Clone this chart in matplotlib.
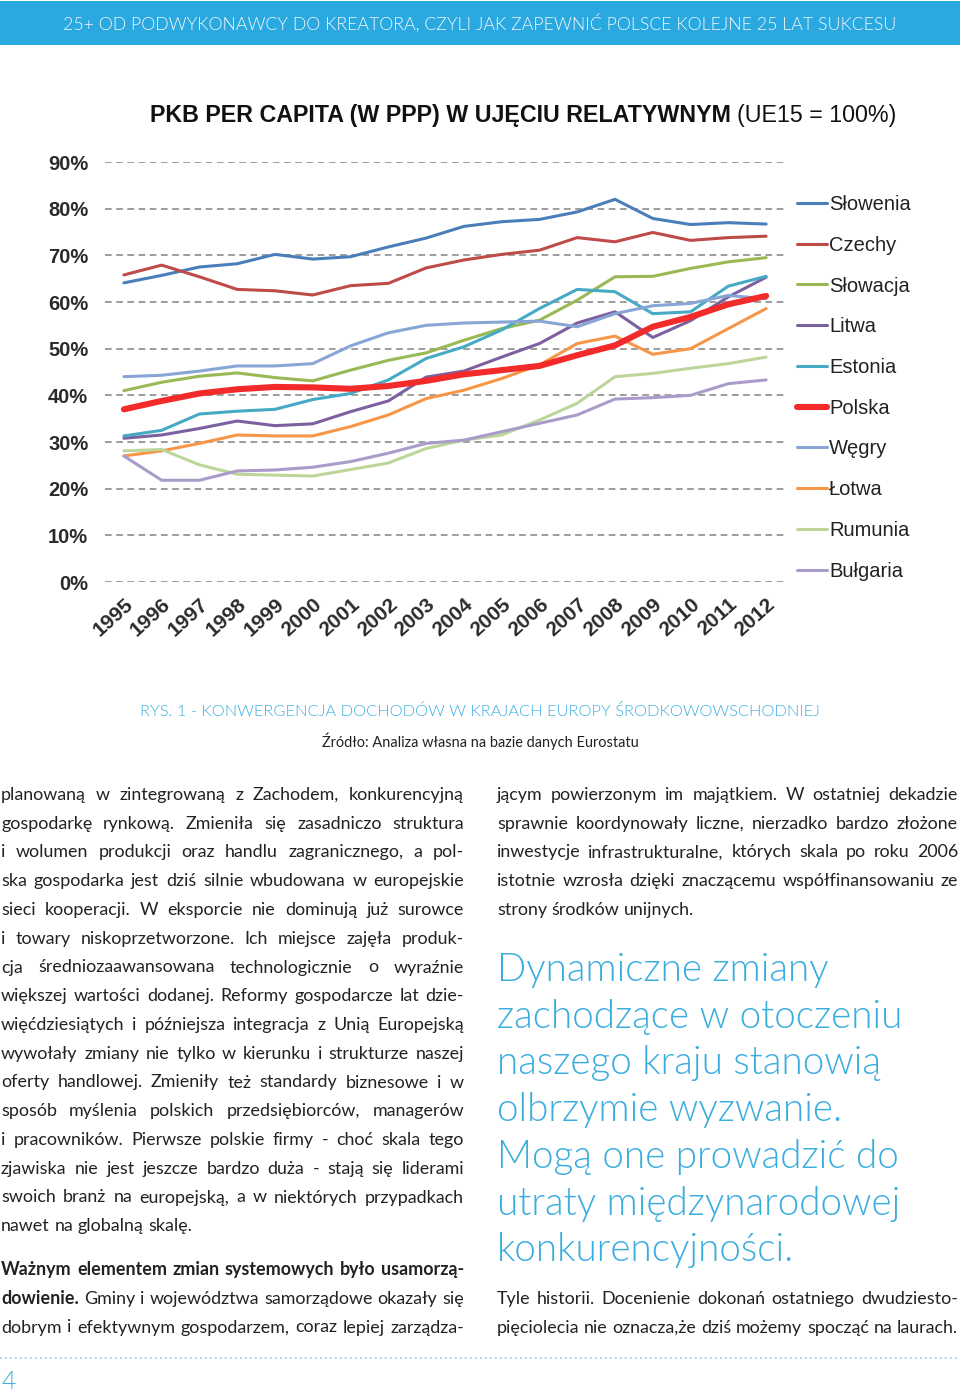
#!/usr/bin/env python3
"""Strona raportu: PKB per capita (PPP) krajów EŚW względem UE15 + tekst"""
import matplotlib
matplotlib.use('Agg')
import matplotlib.pyplot as plt
import matplotlib.font_manager as fm
from matplotlib.lines import Line2D
from matplotlib.patches import Rectangle

# ── dane (% UE15) ──────────────────────────────────────
years = [1995, 1996, 1997, 1998, 1999, 2000, 2001, 2002, 2003,
         2004, 2005, 2006, 2007, 2008, 2009, 2010, 2011, 2012]
countries = ['Słowenia', 'Czechy', 'Słowacja', 'Litwa', 'Estonia',
             'Polska', 'Węgry', 'Łotwa', 'Rumunia', 'Bułgaria']

slowenia = [64.1, 65.7, 67.5, 68.2, 70.2, 69.2, 69.7, 71.8, 73.7,
            76.2, 77.2, 77.7, 79.3, 82.0, 77.9, 76.6, 77.0, 76.7]
czechy = [65.8, 67.9, 65.4, 62.7, 62.4, 61.5, 63.5, 64.0, 67.3,
          69.0, 70.2, 71.1, 73.8, 72.9, 74.9, 73.2, 73.8, 74.1]
slowacja = [41.0, 42.8, 44.1, 44.8, 43.8, 43.1, 45.4, 47.5, 49.1,
            51.8, 54.3, 56.1, 60.4, 65.4, 65.5, 67.2, 68.6, 69.5]
litwa = [30.8, 31.5, 32.9, 34.5, 33.5, 33.9, 36.5, 38.8, 43.9,
         45.2, 48.2, 51.1, 55.5, 57.9, 52.4, 56.0, 61.1, 65.3]
estonia = [31.3, 32.5, 36.0, 36.6, 37.0, 39.1, 40.4, 43.3, 47.9,
           50.4, 54.0, 58.6, 62.7, 62.2, 57.5, 57.9, 63.4, 65.5]
polska = [37.0, 38.8, 40.4, 41.3, 41.8, 41.7, 41.4, 42.0, 43.1,
          44.5, 45.4, 46.3, 48.6, 50.7, 54.7, 56.8, 59.5, 61.3]
wegry = [44.0, 44.3, 45.2, 46.3, 46.3, 46.8, 50.6, 53.4, 55.0,
         55.5, 55.7, 55.9, 54.7, 57.5, 59.2, 59.7, 61.4, 60.7]
lotwa = [27.0, 28.1, 29.7, 31.5, 31.3, 31.3, 33.3, 35.8, 39.3,
         41.1, 43.6, 46.5, 51.1, 52.7, 48.8, 50.0, 54.3, 58.6]
rumunia = [28.1, 28.4, 25.1, 23.1, 22.9, 22.7, 24.1, 25.5, 28.6,
           30.4, 31.5, 34.7, 38.3, 44.0, 44.7, 45.8, 46.8, 48.2]
bulgaria = [27.0, 21.8, 21.8, 23.8, 24.0, 24.6, 25.8, 27.6, 29.7,
            30.4, 32.2, 34.0, 35.8, 39.2, 39.5, 40.0, 42.5, 43.3]
series = [slowenia, czechy, slowacja, litwa, estonia,
          polska, wegry, lotwa, rumunia, bulgaria]

colors = ['#4a7ebb', '#be4b48', '#98b954', '#7d60a0', '#46aac5',
          '#f32a2a', '#87a6d6', '#f79646', '#bcd69a', '#aa9cc9']

yticks = [0, 10, 20, 30, 40, 50, 60, 70, 80, 90]

# ── teksty ─────────────────────────────────────────────
header = '25+ OD PODWYKONAWCY DO KREATORA, CZYLI JAK ZAPEWNIĆ POLSCE KOLEJNE 25 LAT SUKCESU'
title_bold = 'PKB PER CAPITA (W PPP) W UJĘCIU RELATYWNYM'
title_norm = '(UE15 = 100%)'
caption = 'RYS. 1 - KONWERGENCJA DOCHODÓW W KRAJACH EUROPY ŚRODKOWOWSCHODNIEJ'
source = 'Źródło: Analiza własna na bazie danych Eurostatu'

# (linia, liczba pogrubionych słów, justowanie)
left_col = [
    ('planowaną w zintegrowaną z Zachodem, konkurencyjną', 0, True),
    ('gospodarkę rynkową. Zmieniła się zasadniczo struktura', 0, True),
    ('i wolumen produkcji oraz handlu zagranicznego, a pol-', 0, True),
    ('ska gospodarka jest dziś silnie wbudowana w europejskie', 0, True),
    ('sieci kooperacji. W eksporcie nie dominują już surowce', 0, True),
    ('i towary niskoprzetworzone. Ich miejsce zajęła produk-', 0, True),
    ('cja średniozaawansowana technologicznie o wyraźnie', 0, True),
    ('większej wartości dodanej. Reformy gospodarcze lat dzie-', 0, True),
    ('więćdziesiątych i późniejsza integracja z Unią Europejską', 0, True),
    ('wywołały zmiany nie tylko w kierunku i strukturze naszej', 0, True),
    ('oferty handlowej. Zmieniły też standardy biznesowe i w', 0, True),
    ('sposób myślenia polskich przedsiębiorców, managerów', 0, True),
    ('i pracowników. Pierwsze polskie firmy - choć skala tego', 0, True),
    ('zjawiska nie jest jeszcze bardzo duża - stają się liderami', 0, True),
    ('swoich branż na europejską, a w niektórych przypadkach', 0, True),
    ('nawet na globalną skalę.', 0, False),
]
left_col2 = [
    ('Ważnym elementem zmian systemowych było usamorzą-', 99, True),
    ('dowienie. Gminy i województwa samorządowe okazały się', 1, True),
    ('dobrym i efektywnym gospodarzem, coraz lepiej zarządza-', 0, True),
]
right_col = [
    ('jącym powierzonym im majątkiem. W ostatniej dekadzie', 0, True),
    ('sprawnie koordynowały liczne, nierzadko bardzo złożone', 0, True),
    ('inwestycje infrastrukturalne, których skala po roku 2006', 0, True),
    ('istotnie wzrosła dzięki znaczącemu współfinansowaniu ze', 0, True),
    ('strony środków unijnych.', 0, False),
]
quote = ['Dynamiczne zmiany', 'zachodzące w otoczeniu', 'naszego kraju stanowią',
         'olbrzymie wyzwanie.', 'Mogą one prowadzić do', 'utraty międzynarodowej',
         'konkurencyjności.']
right_col2 = [
    ('Tyle historii. Docenienie dokonań ostatniego dwudziesto-', 0, True),
    ('pięciolecia nie oznacza,że dziś możemy spocząć na laurach.', 0, True),
]

BLUE = '#2aa8e0'
LBLUE = '#3aaddf'
INK = '#222222'
BODY = ['Lato', 'DejaVu Sans']

# Lato Light z pliku (weight='light' łapie Hairline)
_light = [f.fname for f in fm.fontManager.ttflist
          if f.name == 'Lato' and f.fname.lower().endswith('lato-light.ttf')]
if _light:
    LIGHT = dict(fontproperties=fm.FontProperties(fname=_light[0]))
else:
    LIGHT = dict(family=BODY)

W, H = 960, 1393
fig = plt.figure(figsize=(9.6, 13.93), dpi=100)
fig.patch.set_facecolor('white')
r = fig.canvas.get_renderer()


def fx(x):
    return x / W


def fy(y):
    return 1 - y / H


def tw(t):
    return t.get_window_extent(r).width


def fit_text(s, x, y, width, **kw):
    t = fig.text(fx(x), fy(y), s, **kw)
    t.set_fontsize(20)
    t.set_fontsize(20 * width / tw(t))
    return t


# ── nagłówek ───────────────────────────────────────────
fig.add_artist(Rectangle((0, fy(45)), 1, 44 / H, transform=fig.transFigure,
                         facecolor=BLUE, edgecolor='none', zorder=0))
fit_text(header, 480, 23, 830, ha='center', va='center', color='#f2f9fd', **LIGHT)

# ── tytuł wykresu ──────────────────────────────────────
tb = fit_text(title_bold, 150, 122, 581, ha='left', va='baseline', color='#111111',
              family='Liberation Sans', fontweight='bold')
fig.text(fx(150 + tw(tb) + 6), fy(122), title_norm, fontsize=tb.get_fontsize(),
         ha='left', va='baseline', color='#111111', family='Liberation Sans')

# ── wykres ─────────────────────────────────────────────
ax = fig.add_axes([fx(105), fy(582), 680 / W, 420 / H])
for name, vals, c in zip(countries, series, colors):
    lw = 4.4 if name == 'Polska' else 2.2
    ax.plot(years, vals, color=c, lw=lw, label=name,
            zorder=4 if name == 'Polska' else 3, solid_capstyle='round')

ax.set_xlim(1994.5, 2012.5)
ax.set_ylim(0, 90)
ax.set_yticks(yticks)
ax.set_yticklabels([f'{v}%' for v in yticks])
ax.set_xticks(years)
ax.set_xticklabels([str(y) for y in years], rotation=42, ha='right',
                   rotation_mode='anchor')
for lab in ax.get_xticklabels() + ax.get_yticklabels():
    lab.set_family('Liberation Sans')
    lab.set_fontweight('bold')
    lab.set_fontsize(14.5)
    lab.set_color('#2b2b2b')
for lab in ax.get_xticklabels():
    lab.set_fontsize(15)
ax.tick_params(axis='y', length=0, pad=12)
ax.tick_params(axis='x', length=0, pad=9)
ax.grid(axis='y', color='#959595', linestyle=(0, (3.7, 2.5)), linewidth=1.3)
ax.set_axisbelow(True)
for s in ax.spines.values():
    s.set_visible(False)
ax.set_facecolor('none')

leg = ax.legend(loc='upper left', bbox_to_anchor=(fx(797), fy(195)),
                bbox_transform=fig.transFigure, frameon=False,
                prop={'family': 'Liberation Sans', 'size': 14.5},
                handlelength=1.5, handletextpad=0.1, labelspacing=1.08,
                borderpad=0, borderaxespad=0)
for t in leg.get_texts():
    t.set_color('#222222')

# ── podpis ─────────────────────────────────────────────
fit_text(caption, 480, 712, 676, ha='center', va='center', color=LBLUE, **LIGHT)
fit_text(source, 480, 741, 316, ha='center', va='center', color=INK, family=BODY)


# ── tekst justowany ────────────────────────────────────
def tokens(line, nbold):
    return [(w, 'bold' if i < nbold else 'normal') for i, w in enumerate(line.split())]


def space_w(size):
    a = fig.text(0, 0, 'a a', fontsize=size, family=BODY)
    b = fig.text(0, 0, 'aa', fontsize=size, family=BODY)
    d = tw(a) - tw(b)
    a.remove()
    b.remove()
    return d


def natural_width(line, nbold, size):
    tot = 0
    toks = tokens(line, nbold)
    for w, wt in toks:
        t = fig.text(0, 0, w, fontsize=size, fontweight=wt, family=BODY)
        tot += tw(t)
        t.remove()
    return tot + (len(toks) - 1) * space_w(size)


def set_line(line, nbold, just, x0, x1, ybase, size):
    toks = tokens(line, nbold)
    texts = [fig.text(0, fy(ybase), w, fontsize=size, fontweight=wt, family=BODY,
                      color=INK, va='baseline', ha='left') for w, wt in toks]
    widths = [tw(t) for t in texts]
    if just and len(texts) > 1:
        gap = (x1 - x0 - sum(widths)) / (len(texts) - 1)
    else:
        gap = space_w(size)
    x = x0
    for t, w in zip(texts, widths):
        t.set_position((fx(x), fy(ybase)))
        x += w + gap


base = 12.0
ratio = max(natural_width(l, b, base) / 463
            for l, b, j in left_col + left_col2 + right_col + right_col2 if j)
BODY_SIZE = base / ratio * 0.995

PITCH = 28.75
for i, (l, b, j) in enumerate(left_col):
    set_line(l, b, j, 1, 464, 800 + i * PITCH, BODY_SIZE)
for i, (l, b, j) in enumerate(left_col2):
    set_line(l, b, j, 1, 464, 1275 + i * PITCH, BODY_SIZE)
for i, (l, b, j) in enumerate(right_col):
    set_line(l, b, j, 497, 958, 800 + i * PITCH, BODY_SIZE)
for i, (l, b, j) in enumerate(right_col2):
    set_line(l, b, j, 497, 958, 1304 + i * PITCH, BODY_SIZE)

# cytat
qt = fit_text(quote[1], 497, 981 + 46.7, 407, ha='left', va='baseline',
              color=LBLUE, **LIGHT)
for i, q in enumerate(quote):
    if i == 1:
        continue
    t = fig.text(fx(497), fy(981 + i * 46.7), q, ha='left', va='baseline',
                 color=LBLUE, **LIGHT)
    t.set_fontsize(qt.get_fontsize())

# stopka
fig.add_artist(Line2D([0, 1], [fy(1358), fy(1358)], transform=fig.transFigure,
                      color='#8fd0ea', lw=1.2, linestyle=(0, (1, 2))))
t = fig.text(fx(2), fy(1389), '4', ha='left', va='baseline', color=LBLUE, **LIGHT)
t.set_fontsize(18)

fig.savefig('out.png', dpi=100)
